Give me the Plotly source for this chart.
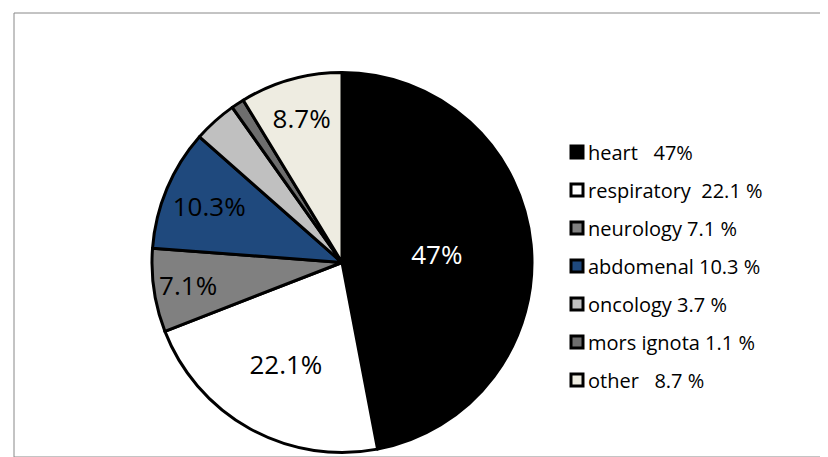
import plotly.graph_objects as go

labels = ['heart   47%', 'respiratory  22.1 %', 'neurology 7.1 %', 'abdomenal 10.3 %',
          'oncology 3.7 %', 'mors ignota 1.1 %', 'other   8.7 %']
values = [47, 22.1, 7.1, 10.3, 3.7, 1.1, 8.7]
slice_text = ['47%', '22.1%', '7.1%', '10.3%', '', '', '8.7%']
colors = ['#000000', '#ffffff', '#808080', '#1f497d', '#c0c0c0', '#6e6e6e', '#eeece1']
text_colors = ['#ffffff', '#000000', '#000000', '#000000', '#000000', '#000000', '#000000']

W, H = 828, 457

fig = go.Figure(go.Pie(
    labels=labels,
    values=values,
    text=slice_text,
    textinfo='text',
    textposition='inside',
    insidetextorientation='horizontal',
    textfont=dict(family='Open Sans', size=26, color=text_colors),
    marker=dict(colors=colors, line=dict(color='black', width=3)),
    sort=False,
    direction='clockwise',
    rotation=0,
    domain=dict(x=[144 / W, 524 / W], y=[10 / H, 395 / H]),
    showlegend=False,
))

# hand-made legend, spaced like the original
shapes = [dict(type='rect', xref='paper', yref='paper',
               x0=6 / W, x1=818 / W, y0=8 / H, y1=452 / H,
               line=dict(color='#888888', width=1))]
annotations = []
for i, (lab, col) in enumerate(zip(labels, colors)):
    yc = 144 + 38 * i
    shapes.append(dict(type='rect', xref='x', yref='y',
                       x0=563, x1=575, y0=yc - 6, y1=yc + 6,
                       fillcolor=col, line=dict(color='black', width=3)))
    annotations.append(dict(x=578, y=yc, xref='x', yref='y', text=lab,
                            showarrow=False, xanchor='left', yanchor='middle',
                            font=dict(family='Open Sans', size=20, color='black')))

fig.update_layout(
    width=W,
    height=H,
    margin=dict(l=0, r=0, t=0, b=0),
    paper_bgcolor='white',
    plot_bgcolor='rgba(0,0,0,0)',
    xaxis=dict(range=[0, W], visible=False, fixedrange=True),
    yaxis=dict(range=[H, 0], visible=False, fixedrange=True),
    shapes=shapes,
    annotations=annotations,
)

fig.write_html('out.html')
